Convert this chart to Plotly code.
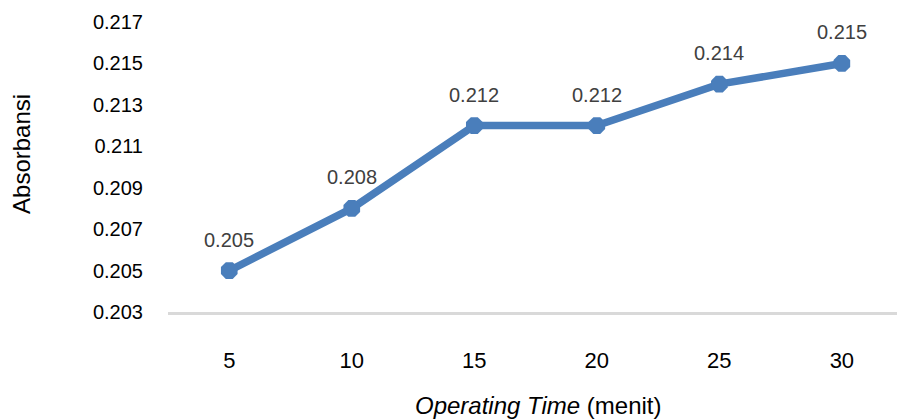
import plotly.graph_objects as go

# Operating time (minutes) and measured absorbance
waktu = ["5", "10", "15", "20", "25", "30"]
absorbansi = [0.205, 0.208, 0.212, 0.212, 0.214, 0.215]
y_ticks = [0.203, 0.205, 0.207, 0.209, 0.211, 0.213, 0.215, 0.217]

LINE_COLOR = "#4a7ebb"
FONT = "Liberation Sans, Arial, sans-serif"

fig = go.Figure()
fig.add_trace(go.Scatter(
    x=list(range(len(waktu))),
    y=absorbansi,
    mode="lines+markers",
    line=dict(color=LINE_COLOR, width=7.5),
    marker=dict(symbol="octagon", size=18, color=LINE_COLOR),
    showlegend=False,
    hoverinfo="skip",
))

# Value labels above each point
for i, v in enumerate(absorbansi):
    fig.add_annotation(
        x=i, y=v, text=f"{v:.3f}", showarrow=False, yshift=31,
        font=dict(family=FONT, size=20, color="#404040"),
    )

fig.add_annotation(
    xref="paper", yref="paper", x=0.5, xshift=6, y=0, yshift=-93,
    text="<i>Operating Time</i> (menit)", showarrow=False,
    font=dict(family=FONT, size=24, color="#000000"),
    xanchor="center", yanchor="middle",
)
fig.add_annotation(
    xref="paper", yref="paper", x=0, xshift=-146, y=0.545,
    text="Absorbansi", showarrow=False, textangle=-90,
    font=dict(family=FONT, size=24, color="#000000"),
    xanchor="center", yanchor="middle",
)

fig.update_layout(
    width=897, height=419,
    margin=dict(l=168, r=0, t=22, b=107),
    paper_bgcolor="white", plot_bgcolor="white",
    font=dict(family=FONT, color="#000000"),
    xaxis=dict(
        tickmode="array", tickvals=list(range(len(waktu))), ticktext=waktu,
        range=[-0.5, 5.45], showgrid=False, zeroline=False,
        showline=True, linecolor="#d9d9d9", linewidth=3,
        ticks="", tickfont=dict(size=22, color="#000000"),
        ticklabelstandoff=27,
    ),
    yaxis=dict(
        tickmode="array", tickvals=y_ticks,
        ticktext=[f"{t:.3f}" for t in y_ticks],
        range=[0.203, 0.217], showgrid=False, zeroline=False,
        showline=False, ticks="", tickfont=dict(size=20, color="#000000"),
        ticklabelstandoff=24,
    ),
)

fig.write_html("out.html")
